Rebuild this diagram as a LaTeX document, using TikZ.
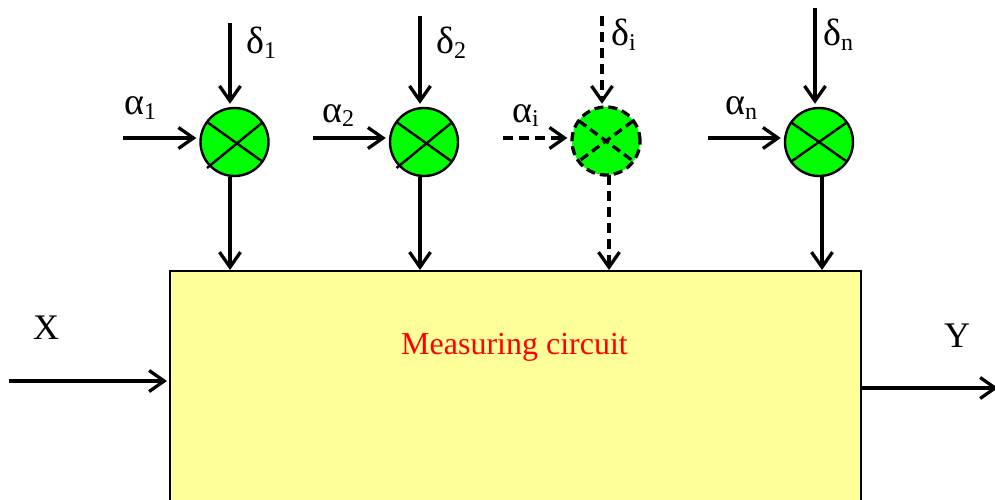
\documentclass[tikz,border=0pt]{standalone}
\usepackage{fontspec}
\setmainfont{Liberation Serif}
\usetikzlibrary{arrows.meta}
\newcommand{\lowidx}[1]{\raisebox{-4.5pt}{\fontsize{24}{24}\selectfont #1}}
\definecolor{boxfill}{HTML}{FFFF99}
\definecolor{sumfill}{HTML}{00FF00}
\tikzset{
  x=1pt,y=-1pt,
  tip/.style={-{Straight Barb[length=15pt,width=21pt,line width=3.3pt]}},
  conn/.style={tip,line width=3.3pt},
  dconn/.style={conn,dash pattern=on 10pt off 6pt},
  sumnode/.style={circle,draw,fill=sumfill,line width=2.4pt,minimum size=68pt,inner sep=0pt},
  dsumnode/.style={sumnode,dash pattern=on 9pt off 5pt,line width=3.3pt},
  crossline/.style={line width=2.4pt},
  dcrossline/.style={line width=3.3pt,dash pattern=on 9pt off 5pt},
  lbl/.style={font=\fontsize{38}{38}\selectfont,inner sep=0pt,anchor=base west},
  mainbox/.style={draw,fill=boxfill,line width=2pt,minimum width=691pt,minimum height=260pt,inner sep=0pt,anchor=north west}
}
\begin{document}
\begin{tikzpicture}
\useasboundingbox (0,0) rectangle (995,500);
\clip (0,0) rectangle (995,500);
\node[mainbox] (box) at (169,270) {};
\node[lbl,text=red,font=\fontsize{32}{32}\selectfont] (title) at (401,354) {Measuring circuit};

\node[sumnode] (s1) at (234.5,142) {};
\node[sumnode] (s2) at (424,142) {};
\node[dsumnode] (si) at (606,141) {};
\node[sumnode] (sn) at (819,142) {};

\foreach \n in {s1,s2}{
  \draw[crossline] (\n.center)+(-27.5,-20) -- +(28.5,20);
  \draw[crossline] (\n.center)+(28.5,-20) -- +(-27.5,26);
}
\draw[crossline] (sn.center)+(-27,-19) -- +(27,19);
\draw[crossline] (sn.center)+(27,-19) -- +(-27,19);
\draw[dcrossline] (si.center)+(-27,-20) -- +(27,20);
\draw[dcrossline] (si.center)+(27,-20) -- +(-27,20);

\coordinate (d1) at (230,23);
\coordinate (d2) at (420,16);
\coordinate (di) at (602,16);
\coordinate (dn) at (815,8);
\coordinate (a1) at (123,138);
\coordinate (a2) at (313,138);
\coordinate (ai) at (503,138);
\coordinate (an) at (708,138);
\coordinate (xin) at (9,381);
\coordinate (yout) at (998,388);

\draw[conn,shorten >=3pt] (d1) -- (d1 |- s1.north);
\draw[conn,shorten >=3pt] (d2) -- (d2 |- s2.north);
\draw[dconn,shorten >=3pt] (di) -- (di |- s1.north);
\draw[conn,shorten >=3pt] (dn) -- (dn |- sn.north);

\draw[conn,shorten >=3pt] (a1) -- (a1 -| s1.west);
\draw[conn,shorten >=3pt] (a2) -- (a2 -| s2.west);
\draw[dconn,shorten >=3pt] (ai) -- (ai -| si.west);
\draw[conn,shorten >=3pt] (an) -- (an -| sn.west);

\draw[conn] (d1 |- s1.south) -- (d1 |- box.north);
\draw[conn] (d2 |- s2.south) -- (d2 |- box.north);
\draw[dconn] (609,175) coordinate (oi) -- (oi |- box.north);
\draw[conn] (822,176) coordinate (on) -- (on |- box.north);

\draw[conn,shorten >=2pt] (xin) -- (xin -| box.west);
\draw[conn] (yout -| box.east) -- (yout);

\node[lbl] (ld1) at (246,54) {δ\lowidx{1}};
\node[lbl] (ld2) at (436,54) {δ\lowidx{2}};
\node[lbl] (ldi) at (611,46) {δ\lowidx{i}};
\node[lbl] (ldn) at (823,46) {δ\lowidx{n}};
\node[lbl] (la1) at (124,115) {α\lowidx{1}};
\node[lbl] (la2) at (322,122) {α\lowidx{2}};
\node[lbl] (lai) at (512,122) {α\lowidx{i}};
\node[lbl] (lan) at (725,115) {α\lowidx{n}};
\node[lbl,font=\fontsize{36}{36}\selectfont] (lx) at (33,339) {X};
\node[lbl,font=\fontsize{36}{36}\selectfont] (ly) at (944,347) {Y};
\end{tikzpicture}
\end{document}
